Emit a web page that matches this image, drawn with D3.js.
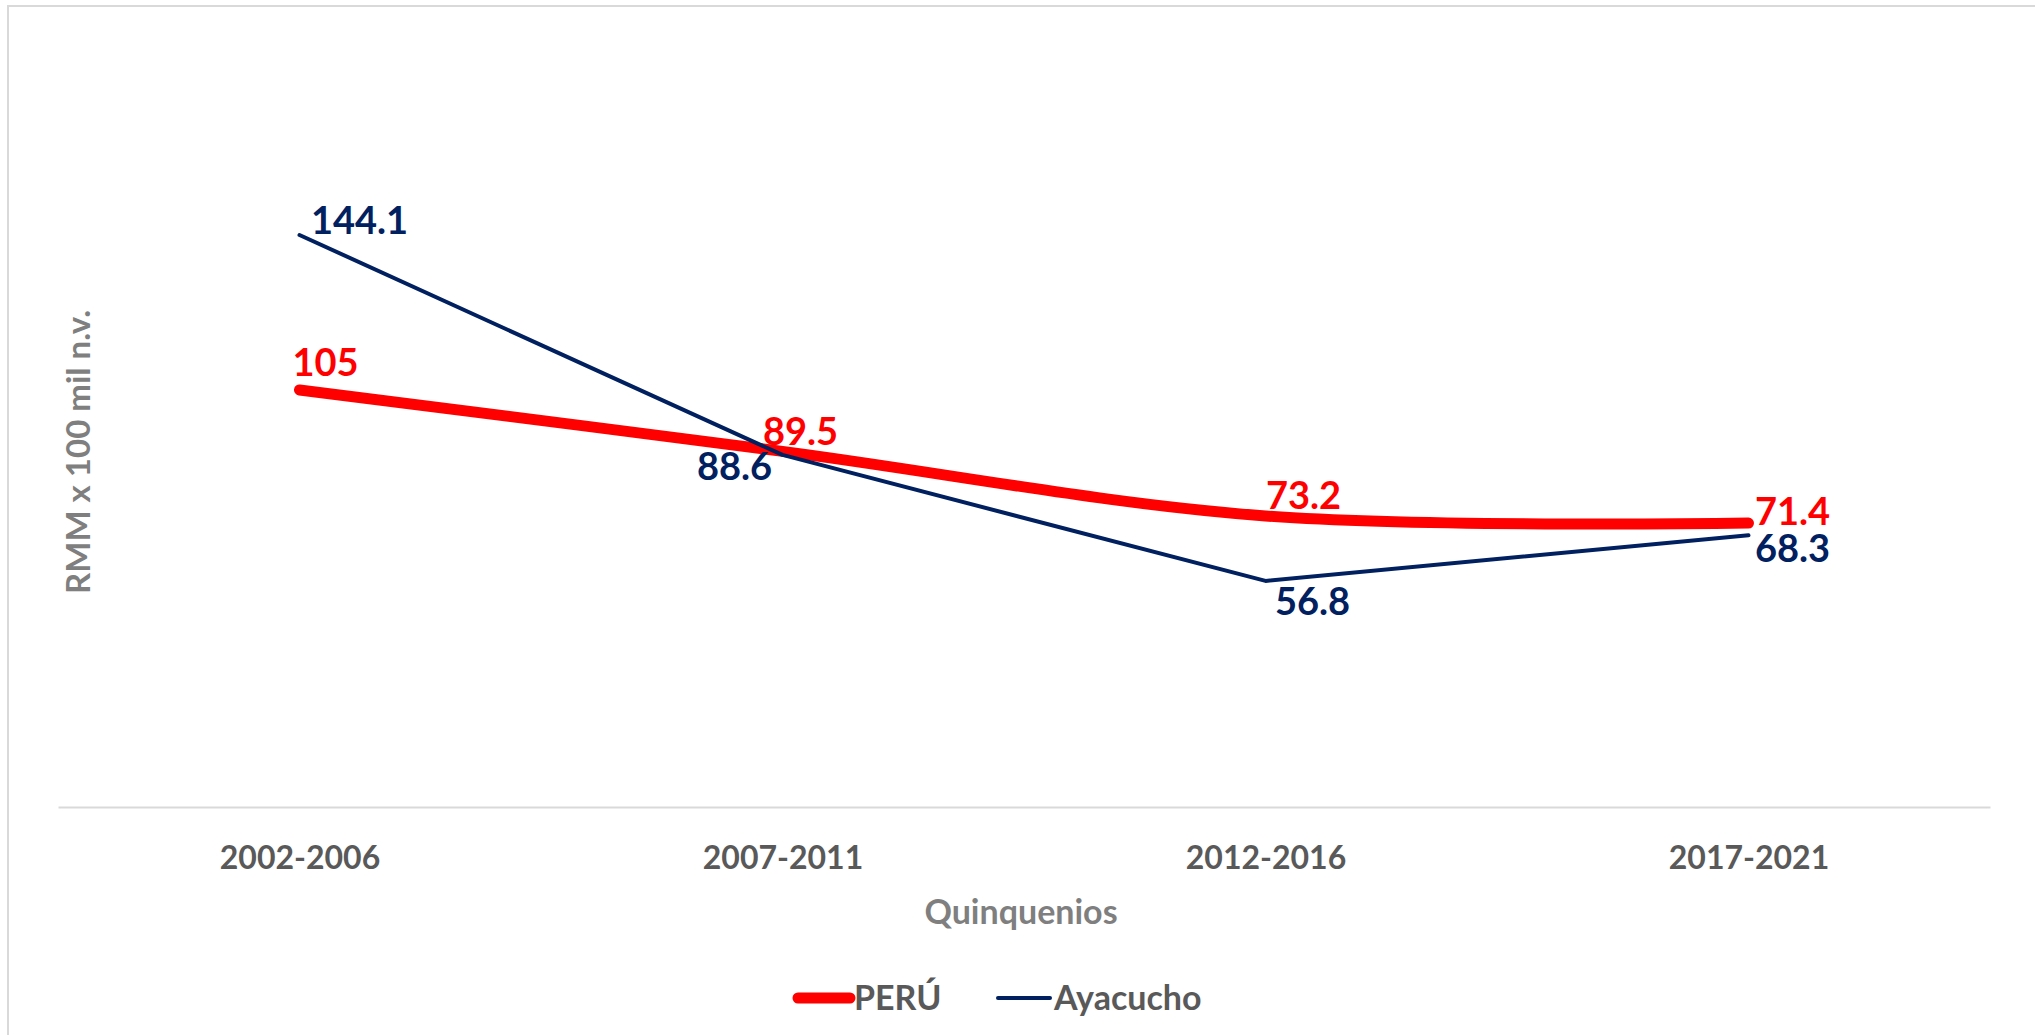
<!DOCTYPE html>
<meta charset="utf-8">
<style>
body { margin: 0; background: #fff; }
text { font-family: Lato, "Open Sans", sans-serif; font-weight: bold; }
.tick text { fill: #595959; font-size: 32px; }
.axis .domain { stroke: #d9d9d9; stroke-width: 2px; }
</style>
<body>
<script src="https://d3js.org/d3.v7.min.js"></script>
<script>

    // data
    let quinquenios = ["2002-2006", "2007-2011", "2012-2016", "2017-2021"];
    let peru = [105, 89.5, 73.2, 71.4];
    let ayacucho = [144.1, 88.6, 56.8, 68.3];
    let peruLabels = ["105", "89.5", "73.2", "71.4"];
    let ayacuchoLabels = ["144.1", "88.6", "56.8", "68.3"];

    // label nudges (px) relative to each point
    let peruOffsets = [[26, -28], [18, -20], [38, -21], [44, -12]];
    let ayacuchoOffsets = [[60, -15], [-48, 11], [47, 20], [44, 13]];

    let width = 2035, height = 1035;

    let svg = d3.select("body").append("svg")
        .attr("width", width)
        .attr("height", height);

    // chart border (top + left visible)
    svg.append("path")
        .attr("d", "M8,1035 L8,6 L2035,6")
        .attr("fill", "none")
        .attr("stroke", "#d9d9d9")
        .attr("stroke-width", 2);

    let x = d3.scalePoint().domain(quinquenios).range([58, 1990]).padding(0.5);
    let y = d3.scaleLinear().domain([0, 160]).range([806, 172]);

    // x axis
    svg.append("g")
        .attr("class", "axis")
        .attr("transform", "translate(0,807)")
        .call(d3.axisBottom(x).tickSize(0).tickSizeOuter(0).tickPadding(39));

    // axis titles
    svg.append("text")
        .attr("x", 1021).attr("y", 912)
        .attr("dy", "0.35em")
        .attr("text-anchor", "middle")
        .attr("fill", "#7f7f7f")
        .attr("font-size", 34)
        .text("Quinquenios");

    svg.append("text")
        .attr("transform", "translate(78,452) rotate(-90)")
        .attr("dy", "0.35em")
        .attr("text-anchor", "middle")
        .attr("fill", "#7f7f7f")
        .attr("font-size", 33)
        .text("RMM x 100 mil n.v.");

    let series = [
        {name: "PERÚ", values: peru, labels: peruLabels, offsets: peruOffsets,
         color: "#ff0000", width: 11, curve: d3.curveCardinal.tension(0)},
        {name: "Ayacucho", values: ayacucho, labels: ayacuchoLabels, offsets: ayacuchoOffsets,
         color: "#002060", width: 4, curve: d3.curveLinear}
    ];

    series.forEach(function (s) {
        let line = d3.line()
            .x(function (d, i) { return x(quinquenios[i]); })
            .y(function (d) { return y(d); })
            .curve(s.curve);

        svg.append("path")
            .datum(s.values)
            .attr("d", line)
            .attr("fill", "none")
            .attr("stroke", s.color)
            .attr("stroke-width", s.width)
            .attr("stroke-linecap", "round")
            .attr("stroke-linejoin", "round");
    });

    // data labels drawn after both lines
    series.forEach(function (s) {
        svg.selectAll(null)
            .data(s.values)
            .enter().append("text")
            .attr("x", function (d, i) { return x(quinquenios[i]) + s.offsets[i][0]; })
            .attr("y", function (d, i) { return y(d) + s.offsets[i][1]; })
            .attr("dy", "0.36em")
            .attr("text-anchor", "middle")
            .attr("fill", s.color)
            .attr("font-size", 38)
            .text(function (d, i) { return s.labels[i]; });
    });

    // legend
    let legend = svg.append("g");
    let legendItems = [
        {name: "PERÚ", color: "#ff0000", width: 11, x0: 798, x1: 850, tx: 854},
        {name: "Ayacucho", color: "#002060", width: 4, x0: 998, x1: 1050, tx: 1054}
    ];
    legendItems.forEach(function (d) {
        legend.append("line")
            .attr("x1", d.x0).attr("x2", d.x1)
            .attr("y1", 998).attr("y2", 998)
            .attr("stroke", d.color)
            .attr("stroke-width", d.width)
            .attr("stroke-linecap", "round");
        legend.append("text")
            .attr("x", d.tx).attr("y", 998)
            .attr("dy", "0.36em")
            .attr("fill", "#595959")
            .attr("font-size", 34)
            .text(d.name);
    });

</script>
</body>
